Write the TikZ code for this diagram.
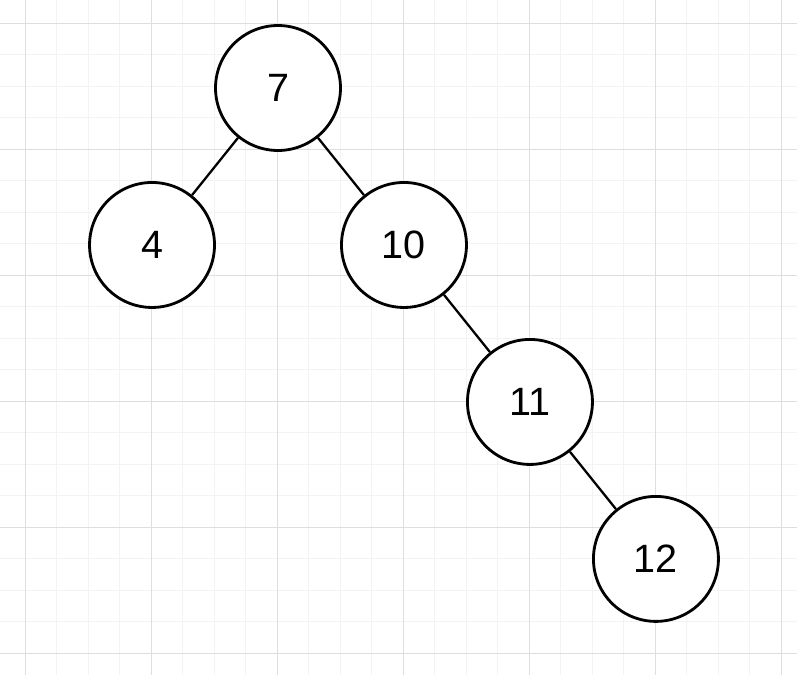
\documentclass[tikz,border=0pt]{standalone}
\usepackage{fontspec}
\setmainfont{Liberation Sans}
\usetikzlibrary{positioning}
\definecolor{gridminor}{RGB}{243,243,243}
\definecolor{gridmajor}{RGB}{222,222,222}

\begin{document}
\begin{tikzpicture}[x=0.02cm, y=-0.02cm,
  treenode/.style={draw, circle, line width=1.6pt, minimum size=2.5cm,
               inner sep=0pt, fill=white, font=\fontsize{22.5}{27}\selectfont},
  branch/.style={line width=1.3pt},
  minorline/.style={draw=gridminor, line width=0.5pt},
  majorline/.style={draw=gridmajor, line width=0.55pt},
  node distance=3.14cm and 2.52cm, on grid
]
\useasboundingbox (0,0) rectangle (797,675);
% background grid
\foreach \k in {0,...,24} \draw[minorline] (25+31.5*\k,0) -- (25+31.5*\k,675);
\foreach \k in {0,...,20} \draw[minorline] (0,23+31.5*\k) -- (797,23+31.5*\k);
\foreach \k in {0,4,...,24} \draw[majorline] (25+31.5*\k,0) -- (25+31.5*\k,675);
\foreach \k in {0,4,...,20} \draw[majorline] (0,23+31.5*\k) -- (797,23+31.5*\k);

\node[treenode] (n7) at (278,88) {7};
\node[treenode, below left=of n7] (n4) {4};
\node[treenode, below right=of n7] (n10) {10};
\node[treenode, below right=of n10] (n11) {11};
\node[treenode, below right=of n11] (n12) {12};

\draw[branch] (n7) -- (n4);
\draw[branch] (n7) -- (n10);
\draw[branch] (n10) -- (n11);
\draw[branch] (n11) -- (n12);
\end{tikzpicture}
\end{document}
